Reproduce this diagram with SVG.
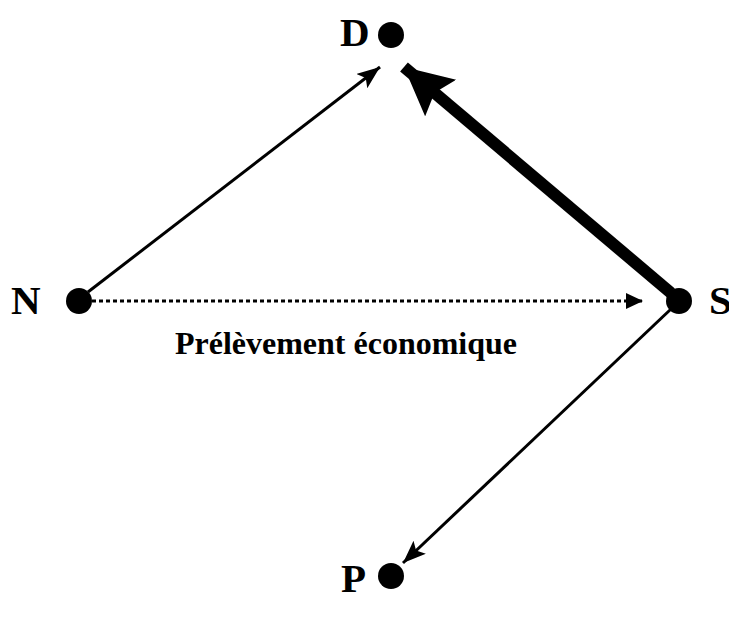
<svg xmlns="http://www.w3.org/2000/svg" width="729" height="619" viewBox="0 0 729 619">
<style>
.lbl{font-family:"Liberation Serif","Times New Roman",serif;font-weight:bold;font-size:41px;fill:#000}
.cap{font-family:"Liberation Serif","Times New Roman",serif;font-weight:bold;font-size:32px;fill:#000}
.dot{fill:#000}
.thin{stroke:#000;stroke-width:3;fill:none}
</style>
<defs>
<marker id="ah" markerUnits="userSpaceOnUse" markerWidth="26" markerHeight="20" refX="23" refY="9" orient="auto" viewBox="0 0 26 20">
<path d="M0,0 L23,9 L0,18 L5,9 z" fill="#000"/>
</marker>
<marker id="ahb" markerUnits="userSpaceOnUse" markerWidth="52" markerHeight="52" refX="48" refY="24" orient="auto" viewBox="0 0 52 52">
<path d="M0,0 L48,24 L0,48 L8,24 z" fill="#000"/>
</marker>
<marker id="ahd" markerUnits="userSpaceOnUse" markerWidth="20" markerHeight="18" refX="17" refY="8" orient="auto" viewBox="0 0 20 18">
<path d="M0,0 L17,8 L0,16 z" fill="#000"/>
</marker>
</defs>
<g id="connectors">
<line class="thin" x1="88" y1="292" x2="380" y2="67" marker-end="url(#ah)"/>
<line stroke="#000" stroke-width="12" x1="671" y1="293" x2="404" y2="67" marker-end="url(#ahb)"/>
<line class="thin" x1="671" y1="309" x2="403" y2="563" marker-end="url(#ah)"/>
<line class="thin" stroke-dasharray="4,3" x1="92" y1="301" x2="643" y2="301" marker-end="url(#ahd)"/>
</g>
<g id="D"><circle class="dot" cx="391" cy="35" r="13"/><text class="lbl" x="340" y="46">D</text></g>
<g id="N"><circle class="dot" cx="79" cy="301" r="13"/><text class="lbl" x="11" y="314">N</text></g>
<g id="S"><circle class="dot" cx="679" cy="301" r="13"/><text class="lbl" x="709" y="314">S</text></g>
<g id="P"><circle class="dot" cx="391" cy="576" r="13"/><text class="lbl" x="341" y="592">P</text></g>
<g id="label"><text class="cap" x="346" y="354" text-anchor="middle">Prélèvement économique</text></g>
</svg>
